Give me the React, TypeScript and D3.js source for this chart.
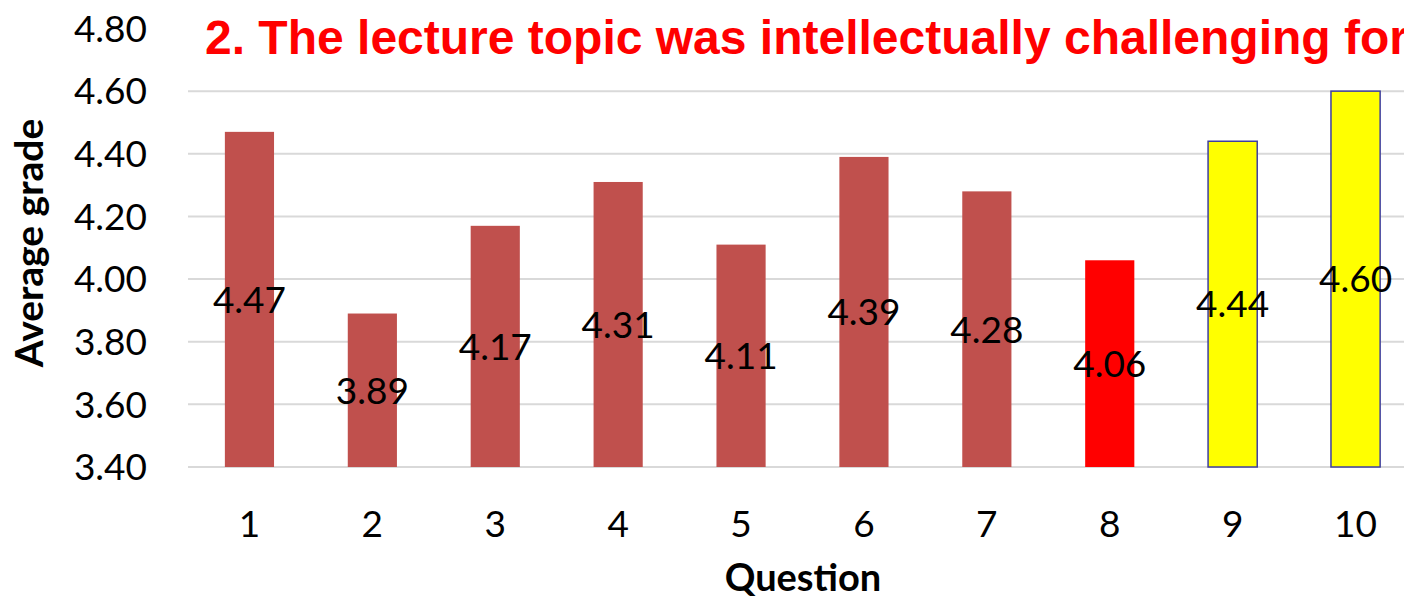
import React from 'react';
import * as d3 from 'd3';

// chart data
const questions = ['1', '2', '3', '4', '5', '6', '7', '8', '9', '10'];
const grades = [4.47, 3.89, 4.17, 4.31, 4.11, 4.39, 4.28, 4.06, 4.44, 4.6];
const yTicks = [3.4, 3.6, 3.8, 4.0, 4.2, 4.4, 4.6, 4.8];
const title = '2. The lecture topic was intellectually challenging for';

const W = 1404;
const H = 600;

const barFill = (i: number) => (i === 7 ? '#FF0000' : i >= 8 ? '#FFFF00' : '#C0504D');

const App = () => {
  const x = d3.scaleBand().domain(questions).range([188, 1417]).paddingInner(0.6).paddingOuter(0.3);
  const y = d3.scaleLinear().domain([3.4, 4.8]).range([467, 28.5]);
  const base = y(3.4);

  return (
    <svg width={W} height={H} style={{ position: 'absolute', left: 0, top: 0, background: '#fff' }}>
      {yTicks.filter(t => t < 4.7).map(t => (
        <line key={t} x1={188} x2={W} y1={y(t)} y2={y(t)} stroke="#D9D9D9" strokeWidth={2} />
      ))}
      {yTicks.map(t => (
        <text key={t} x={147} y={y(t)} dy="0.36em" textAnchor="end"
          fontFamily="Lato" fontSize={37} fill="#000">{t.toFixed(2)}</text>
      ))}
      {grades.map((v, i) => (
        <rect key={i} x={x(questions[i])} y={y(v)} width={x.bandwidth()} height={base - y(v)}
          fill={barFill(i)} stroke={i >= 8 ? '#3F3F9F' : 'none'} strokeWidth={1.5} />
      ))}
      {grades.map((v, i) => (
        <text key={i} x={(x(questions[i]) as number) + x.bandwidth() / 2} y={(y(v) + base) / 2}
          dy="0.36em" textAnchor="middle" fontFamily="Lato" fontSize={37} fill="#000">{v.toFixed(2)}</text>
      ))}
      {questions.map(q => (
        <text key={q} x={(x(q) as number) + x.bandwidth() / 2} y={537} textAnchor="middle"
          fontFamily="Lato" fontSize={37} fill="#000">{q}</text>
      ))}
      <text x={803} y={591} textAnchor="middle" fontFamily="Lato" fontWeight="bold" fontSize={38} fill="#000">Question</text>
      <text transform="translate(43,243) rotate(-90)" textAnchor="middle" fontFamily="Lato" fontWeight="bold"
        fontSize={39} fill="#000">Average grade</text>
      <text x={205} y={54} fontFamily="Liberation Sans, Arial, sans-serif" fontWeight="bold" fontSize={48}
        fill="#FF0000">{title}</text>
    </svg>
  );
};

export default App;
